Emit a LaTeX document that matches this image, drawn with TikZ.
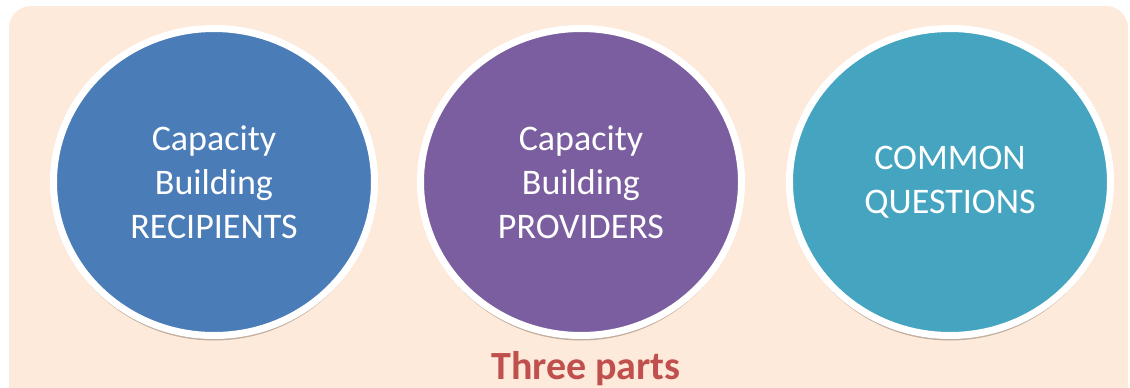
\documentclass[tikz,border=0pt]{standalone}
\usepackage{fontspec}
\setmainfont{Carlito}
\usetikzlibrary{shadows,shapes.geometric}
\definecolor{bgpeach}{HTML}{FDEADB}
\definecolor{cblue}{HTML}{4A7CB8}
\definecolor{cpurple}{HTML}{7B5E9F}
\definecolor{cteal}{HTML}{45A4C0}
\definecolor{tred}{HTML}{C0504D}
\begin{document}
\begin{tikzpicture}[x=1pt,y=-1pt,
  part/.style={ellipse, minimum width=321pt, minimum height=307pt, inner sep=0pt,
    draw=white, line width=7pt, align=center, text=white,
    font=\fontsize{36}{44}\selectfont,
    drop shadow={shadow xshift=0pt, shadow yshift=-5pt, opacity=0.3, fill=black!70!brown}}]
\useasboundingbox (0,0) rectangle (1130,388);
\fill[bgpeach, rounded corners=22pt] (9,6) rectangle (1128,420);
\node[part, fill=cblue]   (rec)  at (214,182) {Capacity\\Building\\RECIPIENTS};
\node[part, fill=cpurple] (prov) at (581,182) {Capacity\\Building\\PROVIDERS};
\node[part, fill=cteal]   (com)  at (950,182) {COMMON\\QUESTIONS};
\node[font=\bfseries\fontsize{40}{46}\selectfont, text=tred] (title) at (586,369) {Three parts};
\end{tikzpicture}
\end{document}
